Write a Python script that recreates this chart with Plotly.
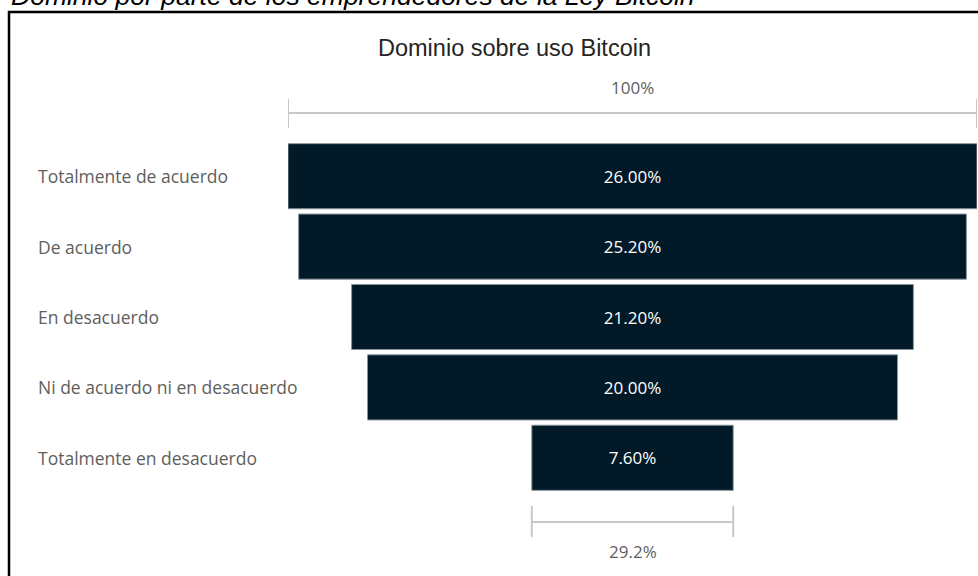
import plotly.graph_objects as go

categories = ["Totalmente de acuerdo", "De acuerdo", "En desacuerdo",
              "Ni de acuerdo ni en desacuerdo", "Totalmente en desacuerdo"]
values = [26.00, 25.20, 21.20, 20.00, 7.60]
chart_title = "Dominio sobre uso Bitcoin"
caption = "Dominio por parte de los emprendedores de la Ley Bitcoin"

W, H = 978, 576
L, R, T, B = 288, 1, 141, 83
PW, PH = W - L - R, H - T - B


def px2x(px):
    return (px - L) / PW


def py2y(py):
    return (H - B - py) / PH


first, last = values[0], values[-1]
half = first / 2

fig = go.Figure(go.Funnel(
    y=categories,
    x=values,
    texttemplate="%{x:.2f}%",
    textposition="inside",
    insidetextanchor="middle",
    textfont=dict(family="Open Sans", size=17, color="white"),
    marker=dict(color="#021a28", line=dict(color="#8a949c", width=1)),
    connector=dict(visible=False),
    hoverinfo="skip",
))

grey = "#c8c8c8"
shapes = []
# top bracket (100%)
yl, yt0, yt1 = py2y(113), py2y(99), py2y(128)
shapes += [
    dict(type="line", xref="x", yref="paper", x0=-half, x1=half, y0=yl, y1=yl,
         line=dict(color=grey, width=2)),
    dict(type="line", xref="x", yref="paper", x0=-half, x1=-half, y0=yt0, y1=yt1,
         line=dict(color=grey, width=2)),
    dict(type="line", xref="x", yref="paper", x0=half, x1=half, y0=yt0, y1=yt1,
         line=dict(color=grey, width=2)),
]
# bottom bracket (last / first)
lh = last / 2
yl, yt0, yt1 = py2y(522), py2y(506), py2y(537)
shapes += [
    dict(type="line", xref="x", yref="paper", x0=-lh, x1=lh, y0=yl, y1=yl,
         line=dict(color=grey, width=2)),
    dict(type="line", xref="x", yref="paper", x0=-lh, x1=-lh, y0=yt0, y1=yt1,
         line=dict(color=grey, width=2)),
    dict(type="line", xref="x", yref="paper", x0=lh, x1=lh, y0=yt0, y1=yt1,
         line=dict(color=grey, width=2)),
]
# outer border
shapes.append(dict(type="rect", xref="paper", yref="paper",
                   x0=px2x(9), x1=px2x(1000), y0=py2y(12), y1=py2y(620),
                   line=dict(color="black", width=2.5), fillcolor="rgba(0,0,0,0)"))

annotations = []
for c in categories:
    annotations.append(dict(xref="paper", yref="y", x=px2x(36), y=c, text=c,
                            xanchor="left", yanchor="middle", showarrow=False,
                            font=dict(family="Open Sans", size=17.5, color="#605E5C")))
annotations += [
    dict(xref="x", yref="paper", x=0, y=py2y(88), text="100%", showarrow=False,
         xanchor="center", yanchor="middle",
         font=dict(family="Open Sans", size=17, color="#605E5C")),
    dict(xref="x", yref="paper", x=0, y=py2y(551), text=f"{last / first * 100:.1f}%",
         showarrow=False, xanchor="center", yanchor="middle",
         font=dict(family="Open Sans", size=17, color="#605E5C")),
    dict(xref="paper", yref="paper", x=px2x(514), y=py2y(48), text=chart_title,
         showarrow=False, xanchor="center", yanchor="middle",
         font=dict(family="Liberation Sans, Arial", size=23.5, color="#252423")),
    dict(xref="paper", yref="paper", x=px2x(9), y=py2y(-4), text=f"<i>{caption}</i>",
         showarrow=False, xanchor="left", yanchor="middle",
         font=dict(family="Liberation Sans, Arial", size=26.5, color="black")),
]

fig.update_layout(
    width=W, height=H,
    margin=dict(l=L, r=R, t=T, b=B, autoexpand=False),
    paper_bgcolor="white", plot_bgcolor="white",
    showlegend=False,
    funnelgap=0.075,
    xaxis=dict(range=[-half, half], visible=False, fixedrange=True),
    yaxis=dict(showticklabels=False, showgrid=False, zeroline=False,
               showline=False, ticks="", fixedrange=True),
    shapes=shapes,
    annotations=annotations,
)

fig.write_html("out.html", config=dict(displayModeBar=False),
               post_script="document.body.style.margin='0';document.body.style.overflow='hidden';")
